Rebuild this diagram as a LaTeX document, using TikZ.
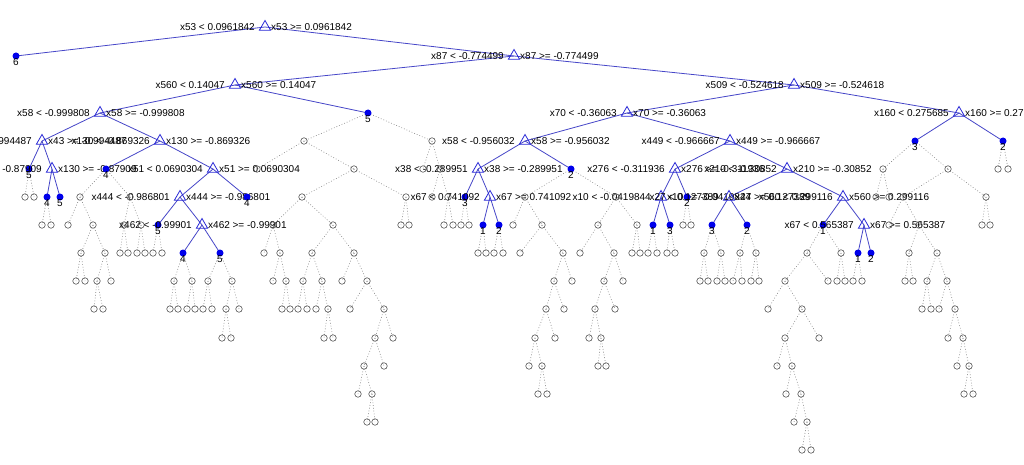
\documentclass[tikz,border=0pt]{standalone}
\usepackage{fontspec}
\setmainfont{Liberation Sans}
\usetikzlibrary{shapes.geometric,backgrounds}
\definecolor{bline}{RGB}{70,70,200}
\definecolor{btri}{RGB}{40,40,215}
\definecolor{bdot}{RGB}{0,0,235}
\definecolor{gline}{RGB}{135,135,135}
\definecolor{gcirc}{RGB}{85,85,85}
\tikzset{
 tri/.style={regular polygon, regular polygon sides=3, draw=btri, line width=0.8pt, minimum size=13pt, inner sep=0pt},
 leafdot/.style={circle, fill=bdot, minimum size=7pt, inner sep=0pt},
 greydot/.style={circle, draw=gcirc, line width=0.6pt, minimum size=6.5pt, inner sep=0pt},
 lbl/.style={inner sep=0pt, font=\fontsize{10}{12}\selectfont, text=black},
 num/.style={inner sep=0pt, anchor=north, font=\fontsize{10}{12}\selectfont, text=black},
 bedge/.style={draw=bline, line width=0.8pt},
 gedge/.style={draw=gline, line width=0.6pt, dash pattern=on 0.8pt off 2pt},
}
\newcommand\TN[5]{\node[tri] (#1) at (#2,#3) {};\node[lbl,anchor=east] (#1-l) at (#2-10,#3) {#4};\node[lbl,anchor=west] (#1-r) at (#2+6,#3) {#5};}
\newcommand\TC[6]{\TN{#1}{#2}{#3}{#5}{#6}\begin{pgfonlayer}{background}\draw[bedge] (#4.center) -- (#1.center);\end{pgfonlayer}}
\newcommand\LC[5]{\node[leafdot] (#1) at (#2,#3) {};\node[num] (#1-n) at (#2,#3+2.5) {#5};\begin{pgfonlayer}{background}\draw[bedge] (#4.center) -- (#1.center);\end{pgfonlayer}}
\newcommand\GC[3]{\node[greydot] (n#1-#2) at (#1,#2) {};\begin{pgfonlayer}{background}\draw[gedge] (#3.center) -- (n#1-#2.center);\end{pgfonlayer}}
\begin{document}
\begin{tikzpicture}[x=1pt,y=-1pt]
\useasboundingbox (0,0) rectangle (1024,465);
\begin{pgfonlayer}{background}\fill[white] (0,0) rectangle (1024,465);\end{pgfonlayer}
\clip (0,0) rectangle (1024,465);
% ---- blue (kept) tree ----
\TN{r}{265}{27}{x53 < 0.0961842}{x53 >= 0.0961842}
\LC{a}{16}{56}{r}{6}
\TC{b}{514}{56}{r}{x87 < -0.774499}{x87 >= -0.774499}
\TC{c}{235}{85}{b}{x560 < 0.14047}{x560 >= 0.14047}
\TC{d}{794}{85}{b}{x509 < -0.524618}{x509 >= -0.524618}
\TC{e}{100}{113}{c}{x58 < -0.999808}{x58 >= -0.999808}
\LC{f}{368}{113}{c}{5}
\TC{g}{627}{113}{d}{x70 < -0.36063}{x70 >= -0.36063}
\TC{h}{959}{113}{d}{x160 < 0.275685}{x160 >= 0.275685}
\TC{i}{42}{141}{e}{x43 < -0.994487}{x43 >= -0.994487}
\TC{j}{160}{141}{e}{x130 < -0.869326}{x130 >= -0.869326}
\TC{k58}{525}{141}{g}{x58 < -0.956032}{x58 >= -0.956032}
\TC{k449}{730}{141}{g}{x449 < -0.966667}{x449 >= -0.966667}
\LC{l3d}{915}{141}{h}{3}
\LC{l2f}{1003}{141}{h}{2}
\LC{l5a}{29}{169}{i}{5}
\TC{j2}{52}{169}{i}{x130 < -0.87909}{x130 >= -0.87909}
\LC{l4b}{106}{169}{j}{4}
\TC{k51}{213}{169}{j}{x51 < 0.0690304}{x51 >= 0.0690304}
\TC{k38}{478}{169}{k58}{x38 < -0.289951}{x38 >= -0.289951}
\LC{l2b}{571}{169}{k58}{2}
\TC{k276}{675}{169}{k449}{x276 < -0.311936}{x276 >= -0.311936}
\TC{k210}{787}{169}{k449}{x210 < -0.30852}{x210 >= -0.30852}
\LC{l4a}{47}{197}{j2}{4}
\LC{l5b}{60}{197}{j2}{5}
\TC{k444}{180}{197}{k51}{x444 < -0.986801}{x444 >= -0.986801}
\LC{l4c}{247}{197}{k51}{4}
\LC{l3a}{465}{197}{k38}{3}
\TC{k67}{490}{197}{k38}{x67 < 0.741092}{x67 >= 0.741092}
\TC{k10}{661}{197}{k276}{x10 < -0.0419844}{x10 >= -0.0419844}
\LC{l2c}{687}{197}{k276}{2}
\TC{k27}{729}{197}{k210}{x27 < 0.127389}{x27 >= 0.127389}
\TC{k560}{843}{197}{k210}{x560 < 0.299116}{x560 >= 0.299116}
\LC{l5c}{158}{225}{k444}{5}
\TC{k462}{202}{225}{k444}{x462 < -0.99901}{x462 >= -0.99901}
\LC{l1a}{483}{225}{k67}{1}
\LC{l2a}{499}{225}{k67}{2}
\LC{l1b}{653}{225}{k10}{1}
\LC{l3b}{670}{225}{k10}{3}
\LC{l3c}{712}{225}{k27}{3}
\LC{l2d}{747}{225}{k27}{2}
\LC{l1c}{823}{225}{k560}{1}
\TC{k67b}{864}{225}{k560}{x67 < 0.565387}{x67 >= 0.565387}
\LC{l4d}{183}{253}{k462}{4}
\LC{l5d}{220}{253}{k462}{5}
\LC{l1d}{858}{253}{k67b}{1}
\LC{l2e}{871}{253}{k67b}{2}
% ---- grey (pruned) nodes ----
\GC{25}{197}{l5a}\GC{34}{197}{l5a}
\GC{42}{225}{l4a}\GC{51}{225}{l4a}
\GC{80}{197}{l4b}\GC{130}{197}{l4b}
\GC{68}{225}{n80-197}\GC{93}{225}{n80-197}
\GC{81}{253}{n93-225}\GC{105}{253}{n93-225}
\GC{76}{281}{n81-253}\GC{85}{281}{n81-253}
\GC{97}{281}{n105-253}\GC{111}{281}{n105-253}
\GC{94}{309}{n97-281}\GC{103}{309}{n97-281}
\GC{124}{225}{n130-197}\GC{141}{225}{n130-197}
\GC{120}{253}{n124-225}\GC{128}{253}{n124-225}
\GC{137}{253}{n141-225}\GC{145}{253}{n141-225}
\GC{153}{253}{l5c}\GC{162}{253}{l5c}
\GC{174}{281}{l4d}\GC{192}{281}{l4d}
\GC{170}{309}{n174-281}\GC{178}{309}{n174-281}
\GC{187}{309}{n192-281}\GC{195}{309}{n192-281}
\GC{208}{281}{l5d}\GC{232}{281}{l5d}
\GC{203}{309}{n208-281}\GC{212}{309}{n208-281}
\GC{226}{309}{n232-281}\GC{239}{309}{n232-281}
\GC{222}{338}{n226-309}\GC{231}{338}{n226-309}
\GC{304}{141}{f}\GC{432}{141}{f}
\GC{257}{169}{n304-141}\GC{354}{169}{n304-141}
\GC{302}{197}{n354-169}\GC{406}{197}{n354-169}
\GC{273}{225}{n302-197}\GC{333}{225}{n302-197}
\GC{264}{253}{n273-225}\GC{280}{253}{n273-225}
\GC{273}{281}{n280-253}\GC{286}{281}{n280-253}
\GC{282}{309}{n286-281}\GC{290}{309}{n286-281}
\GC{312}{253}{n333-225}\GC{354}{253}{n333-225}
\GC{303}{281}{n312-253}\GC{322}{281}{n312-253}
\GC{298}{309}{n303-281}\GC{307}{309}{n303-281}
\GC{316}{309}{n322-281}\GC{328}{309}{n322-281}
\GC{324}{338}{n328-309}\GC{333}{338}{n328-309}
\GC{342}{281}{n354-253}\GC{367}{281}{n354-253}
\GC{350}{309}{n367-281}\GC{384}{309}{n367-281}
\GC{375}{338}{n384-309}\GC{393}{338}{n384-309}
\GC{364}{366}{n375-338}\GC{384}{366}{n375-338}
\GC{358}{394}{n364-366}\GC{372}{394}{n364-366}
\GC{367}{422}{n372-394}\GC{375}{422}{n372-394}
\GC{401}{225}{n406-197}\GC{409}{225}{n406-197}
\GC{423}{169}{n432-141}\GC{440}{169}{n432-141}
\GC{432}{197}{n440-169}\GC{448}{197}{n440-169}
\GC{444}{225}{n448-197}\GC{453}{225}{n448-197}
\GC{461}{225}{l3a}\GC{469}{225}{l3a}
\GC{478}{253}{l1a}\GC{486}{253}{l1a}
\GC{494}{253}{l2a}\GC{503}{253}{l2a}
\GC{525}{197}{l2b}\GC{616}{197}{l2b}
\GC{513}{225}{n525-197}\GC{542}{225}{n525-197}
\GC{520}{253}{n542-225}\GC{563}{253}{n542-225}
\GC{554}{281}{n563-253}\GC{572}{281}{n563-253}
\GC{546}{309}{n554-281}\GC{564}{309}{n554-281}
\GC{535}{338}{n546-309}\GC{555}{338}{n546-309}
\GC{529}{366}{n535-338}\GC{542}{366}{n535-338}
\GC{538}{394}{n542-366}\GC{547}{394}{n542-366}
\GC{598}{225}{n616-197}\GC{637}{225}{n616-197}
\GC{580}{253}{n598-225}\GC{614}{253}{n598-225}
\GC{604}{281}{n614-253}\GC{623}{281}{n614-253}
\GC{595}{309}{n604-281}\GC{615}{309}{n604-281}
\GC{589}{338}{n595-309}\GC{601}{338}{n595-309}
\GC{598}{366}{n601-338}\GC{606}{366}{n601-338}
\GC{632}{253}{n637-225}\GC{640}{253}{n637-225}
\GC{648}{253}{l1b}\GC{657}{253}{l1b}
\GC{667}{253}{l3b}\GC{675}{253}{l3b}
\GC{683}{225}{l2c}\GC{691}{225}{l2c}
\GC{704}{253}{l3c}\GC{721}{253}{l3c}
\GC{700}{281}{n704-253}\GC{708}{281}{n704-253}
\GC{717}{281}{n721-253}\GC{725}{281}{n721-253}
\GC{740}{253}{l2d}\GC{756}{253}{l2d}
\GC{733}{281}{n740-253}\GC{742}{281}{n740-253}
\GC{751}{281}{n756-253}\GC{759}{281}{n756-253}
\GC{807}{253}{l1c}\GC{841}{253}{l1c}
\GC{785}{281}{n807-253}\GC{828}{281}{n807-253}
\GC{768}{309}{n785-281}\GC{802}{309}{n785-281}
\GC{785}{338}{n802-309}\GC{819}{338}{n802-309}
\GC{777}{366}{n785-338}\GC{792}{366}{n785-338}
\GC{786}{394}{n792-366}\GC{801}{394}{n792-366}
\GC{794}{422}{n801-394}\GC{807}{422}{n801-394}
\GC{802}{450}{n807-422}\GC{811}{450}{n807-422}
\GC{837}{281}{n841-253}\GC{845}{281}{n841-253}
\GC{853}{281}{l1d}\GC{862}{281}{l1d}
\GC{883}{169}{l3d}\GC{948}{169}{l3d}
\GC{876}{197}{n883-169}\GC{889}{197}{n883-169}
\GC{903}{197}{n948-169}\GC{986}{197}{n948-169}
\GC{889}{225}{n903-197}\GC{919}{225}{n903-197}
\GC{909}{253}{n919-225}\GC{937}{253}{n919-225}
\GC{905}{281}{n909-253}\GC{913}{281}{n909-253}
\GC{927}{281}{n937-253}\GC{947}{281}{n937-253}
\GC{922}{309}{n927-281}\GC{931}{309}{n927-281}
\GC{939}{309}{n947-281}\GC{955}{309}{n947-281}
\GC{948}{338}{n955-309}\GC{963}{338}{n955-309}
\GC{957}{366}{n963-338}\GC{969}{366}{n963-338}
\GC{964}{394}{n969-366}\GC{973}{394}{n969-366}
\GC{982}{225}{n986-197}\GC{990}{225}{n986-197}
\GC{998}{169}{l2f}\GC{1008}{169}{l2f}
\end{tikzpicture}
\end{document}
